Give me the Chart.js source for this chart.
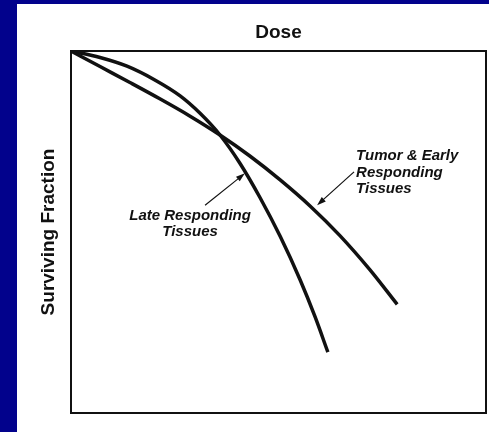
<!DOCTYPE html>
<html>
<head>
<meta charset="utf-8">
<script src="https://cdn.jsdelivr.net/npm/chart.js@4.4.1/dist/chart.umd.min.js"></script>
<style>
  html, body { margin: 0; padding: 0; }
  body { width: 489px; height: 432px; background: #02028c; position: relative; overflow: hidden; }
  #panel { position: absolute; left: 17px; top: 4px; width: 472px; height: 428px; background: #fff; }
  #chart { display: block; }
</style>
</head>
<body>
<div id="panel"><canvas id="chart" width="472" height="428"></canvas></div>
<script>
// Dose (arbitrary units) and log10 surviving fraction
const tumorDose = [0, 0.70, 1.42, 2.14, 2.87, 3.59, 4.31, 5.04, 5.76, 6.48, 7.20, 7.86];
const tumorLogSF = [0, -0.215, -0.435, -0.66, -0.90, -1.16, -1.45, -1.78, -2.14, -2.55, -3.02, -3.50];

const lateDose = [0, 0.70, 1.35, 2.02, 2.63, 3.11, 3.59, 4.07, 4.55, 5.04, 5.52, 5.88, 6.19];
const lateLogSF = [0, -0.09, -0.21, -0.40, -0.62, -0.86, -1.16, -1.55, -2.02, -2.56, -3.16, -3.67, -4.16];

const xTitle = 'Dose';
const yTitle = 'Surviving Fraction';

// Curve labels with their arrows (data coordinates)
const curveLabels = [
  { lines: ['Tumor & Early', 'Responding', 'Tissues'], x: 6.87, y: -1.51, align: 'left',
    arrowFrom: [6.82, -1.67], arrowTo: [5.93, -2.13] },
  { lines: ['Late Responding', 'Tissues'], x: 2.87, y: -2.33, align: 'center',
    arrowFrom: [3.23, -2.13], arrowTo: [4.19, -1.69] }
];

const ink = '#111';
const labelFont = 'italic bold 15px "Liberation Sans", Arial, Helvetica, sans-serif';

const toPoints = (xs, ys) => xs.map((x, i) => ({ x, y: ys[i] }));

// frame round the plot area + the curve labels
const annotatePlugin = {
  id: 'annotate',
  afterDatasetsDraw(chart) {
    const { ctx, chartArea, scales } = chart;
    ctx.save();
    ctx.strokeStyle = ink;
    ctx.lineWidth = 2;
    ctx.strokeRect(chartArea.left, chartArea.top, chartArea.right - chartArea.left, chartArea.bottom - chartArea.top);

    ctx.fillStyle = ink;
    ctx.font = labelFont;
    ctx.textBaseline = 'alphabetic';
    curveLabels.forEach(lbl => {
      const px = scales.x.getPixelForValue(lbl.x);
      const py = scales.y.getPixelForValue(lbl.y);
      ctx.textAlign = lbl.align;
      lbl.lines.forEach((line, i) => ctx.fillText(line, px, py + i * 16.5));

      // arrow
      const x0 = scales.x.getPixelForValue(lbl.arrowFrom[0]);
      const y0 = scales.y.getPixelForValue(lbl.arrowFrom[1]);
      const x1 = scales.x.getPixelForValue(lbl.arrowTo[0]);
      const y1 = scales.y.getPixelForValue(lbl.arrowTo[1]);
      const ang = Math.atan2(y1 - y0, x1 - x0);
      const headLen = 9, headW = 3;
      ctx.lineWidth = 1.2;
      ctx.beginPath();
      ctx.moveTo(x0, y0);
      ctx.lineTo(x1 - Math.cos(ang) * headLen * 0.8, y1 - Math.sin(ang) * headLen * 0.8);
      ctx.stroke();
      ctx.beginPath();
      ctx.moveTo(x1, y1);
      ctx.lineTo(x1 - Math.cos(ang) * headLen - Math.sin(ang) * headW, y1 - Math.sin(ang) * headLen + Math.cos(ang) * headW);
      ctx.lineTo(x1 - Math.cos(ang) * headLen + Math.sin(ang) * headW, y1 - Math.sin(ang) * headLen - Math.cos(ang) * headW);
      ctx.closePath();
      ctx.fill();
    });
    ctx.restore();
  }
};

const titleFont = { family: '"Liberation Sans", Arial, Helvetica, sans-serif', size: 19, weight: 'bold' };

new Chart(document.getElementById('chart'), {
  type: 'line',
  data: {
    datasets: [{
      label: 'Tumor & Early Responding Tissues',
      data: toPoints(tumorDose, tumorLogSF),
      borderColor: ink,
      borderWidth: 3.5,
      pointRadius: 0,
      cubicInterpolationMode: 'monotone',
      fill: false
    }, {
      label: 'Late Responding Tissues',
      data: toPoints(lateDose, lateLogSF),
      borderColor: ink,
      borderWidth: 3.5,
      pointRadius: 0,
      cubicInterpolationMode: 'monotone',
      fill: false
    }]
  },
  options: {
    responsive: false,
    animation: false,
    layout: { padding: { left: 0, top: 0, right: 3, bottom: 19 } },
    plugins: {
      legend: { display: false },
      tooltip: { enabled: false }
    },
    scales: {
      x: {
        type: 'linear',
        position: 'top',
        min: 0,
        max: 10,
        grid: { display: false },
        border: { display: false },
        ticks: { display: false },
        title: { display: true, text: xTitle, color: ink, font: titleFont, padding: { top: 17, bottom: 0 } },
        afterFit(scale) { scale.height = 47; }
      },
      y: {
        type: 'linear',
        min: -5,
        max: 0,
        grid: { display: false },
        border: { display: false },
        ticks: { display: false },
        title: { display: true, text: yTitle, color: ink, font: titleFont, padding: { top: 20, bottom: 0 } },
        afterFit(scale) { scale.width = 54; }
      }
    }
  },
  plugins: [annotatePlugin]
});
</script>
</body>
</html>
